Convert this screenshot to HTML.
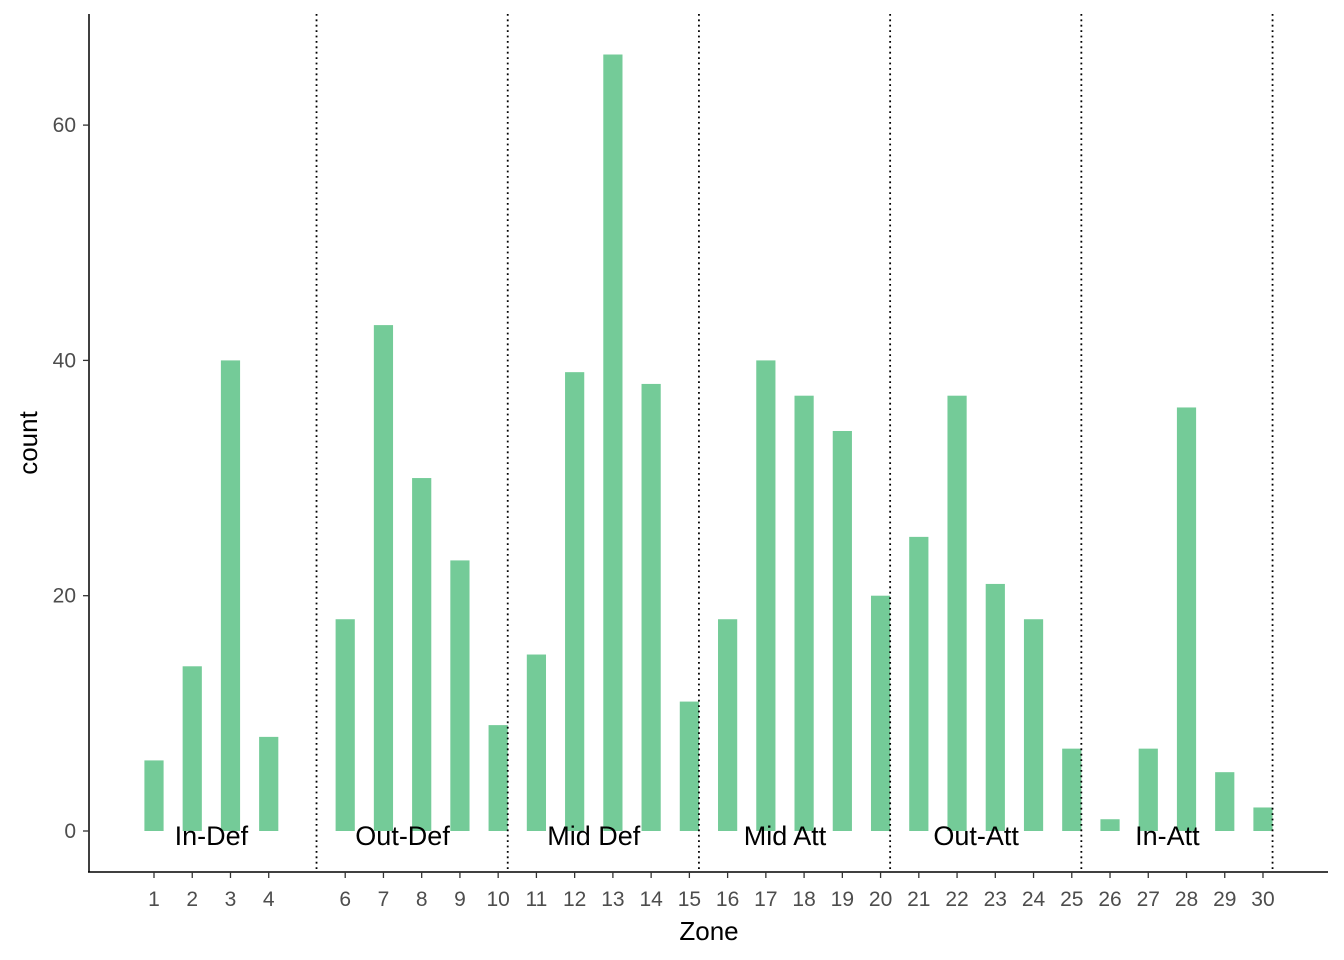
<!DOCTYPE html>
<html><head><meta charset="utf-8"><style>
html,body{margin:0;padding:0;background:#fff;}
svg{display:block;font-family:"Liberation Sans",Arial,sans-serif;}
</style></head><body>
<svg id="chart" width="1344" height="960">
<g id="bars"></g>
<g id="vlines"></g>
<g id="zlabels"></g>
<g id="axes"></g>
</svg>
<script>
const zones = [1,2,3,4,6,7,8,9,10,11,12,13,14,15,16,17,18,19,20,21,22,23,24,25,26,27,28,29,30];
const counts = [6,14,40,8,18,43,30,23,9,15,39,66,38,11,18,40,37,34,20,25,37,21,18,7,1,7,36,5,2];
const yTicks = [0,20,40,60];
const dividers = [5.25,10.25,15.25,20.25,25.25,30.25];
const groupNames = ["In-Def","Out-Def","Mid Def","Mid Att","Out-Att","In-Att"];
const groupCenters = [2.5,7.5,12.5,17.5,22.5,27.5];

const NS="http://www.w3.org/2000/svg";
const xS = z => 154 + (z-1)*38.241;
const yS = v => 831 - v*11.765;
function mk(tag, attrs, parent){const e=document.createElementNS(NS,tag);for(const k in attrs)e.setAttribute(k,attrs[k]);parent.appendChild(e);return e;}
const bars=document.getElementById('bars'), vl=document.getElementById('vlines'), zl=document.getElementById('zlabels'), ax=document.getElementById('axes');
zones.forEach((z,i)=>{
  const v=counts[i], y0=yS(0), y1=yS(v);
  const r=mk('rect',{x:xS(z)-9.6,y:Math.min(y0,y1),width:19.2,height:Math.abs(y0-y1),fill:'#74cb98'},bars);
  
  
});
dividers.forEach(d=>{
  const l=mk('line',{x1:xS(d),x2:xS(d),y1:14,y2:872,stroke:'#000','stroke-width':1.8,'stroke-dasharray':'1.8 3.6'},vl);
  
  
});
groupNames.forEach((n,i)=>{
  const t=mk('text',{x:xS(groupCenters[i]),y:845,'text-anchor':'middle','font-size':27,fill:'#000'},zl);
  t.textContent=n;
  
  
});
mk('line',{x1:89,x2:89,y1:14,y2:872,stroke:'#000','stroke-width':1.5},ax);
mk('line',{x1:88,x2:1328,y1:872,y2:872,stroke:'#000','stroke-width':1.5},ax);
yTicks.forEach(v=>{
  const tk=mk('line',{x1:83,x2:89,y1:yS(v),y2:yS(v),stroke:'#333','stroke-width':1.3},ax);
  
  
  const t=mk('text',{x:76,y:yS(v)+7,'text-anchor':'end','font-size':21,fill:'#4d4d4d'},ax);
  t.textContent=v;
  
  
});
zones.forEach(z=>{
  const tk=mk('line',{x1:xS(z),x2:xS(z),y1:872,y2:878,stroke:'#333','stroke-width':1.3},ax);
  
  
  const t=mk('text',{x:xS(z),y:906,'text-anchor':'middle','font-size':21,fill:'#4d4d4d'},ax);
  t.textContent=z;
  
  
});
const xt=mk('text',{x:709,y:940,'text-anchor':'middle','font-size':26,fill:'#000'},ax);
xt.textContent='Zone';


const yt=mk('text',{x:0,y:0,transform:'translate(37,443) rotate(-90)','text-anchor':'middle','font-size':26,fill:'#000'},ax);
yt.textContent='count';


</script>
</body></html>
